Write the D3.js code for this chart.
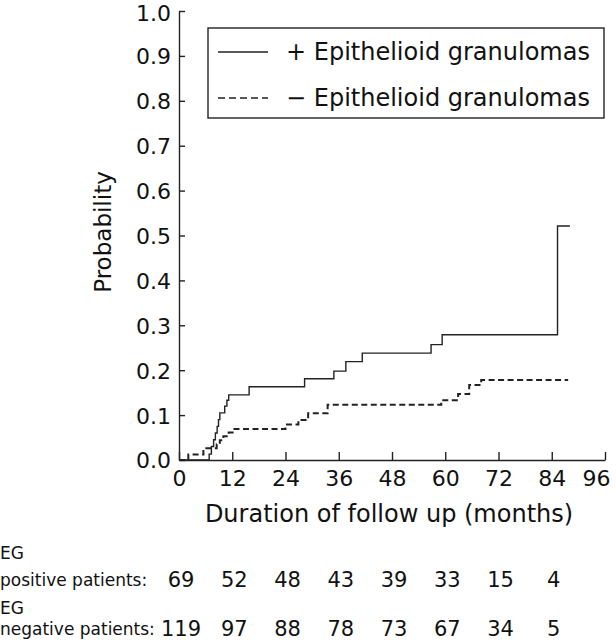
<!DOCTYPE html>
<html>
<head>
<meta charset="utf-8">
<script src="https://cdn.jsdelivr.net/npm/d3@7"></script>
<style>
  html, body { margin: 0; padding: 0; background: #fff; }
  svg { display: block; }
  text { font-family: "DejaVu Sans", sans-serif; fill: #111; }
</style>
</head>
<body>
<svg id="chart" width="616" height="640"></svg>
<script>
// ---- data ----
const xTicks = [0, 12, 24, 36, 48, 60, 72, 84, 96];
const yTicks = [0, 0.1, 0.2, 0.3, 0.4, 0.5, 0.6, 0.7, 0.8, 0.9, 1.0];

// + Epithelioid granulomas (solid), step times (months) and cumulative probability
const posTimes = [0, 6.8, 7.3, 7.8, 8.2, 8.6, 8.9, 9.2, 10.3, 10.8, 11.2, 15.8, 28.3, 34.9, 37.6, 41.3, 56.8, 59.3, 85.3];
const posProb  = [0, 0.013, 0.030, 0.045, 0.060, 0.075, 0.090, 0.105, 0.120, 0.133, 0.145, 0.163, 0.181, 0.198, 0.219, 0.238, 0.257, 0.279, 0.521];
const posEnd = 88.1;

// - Epithelioid granulomas (dashed)
const negTimes = [0, 2.1, 5.5, 8.5, 9.2, 10.0, 11.2, 12.5, 24.0, 26.9, 29.1, 33.5, 59.1, 62.9, 65.4, 68.1];
const negProb  = [0, 0.012, 0.026, 0.035, 0.044, 0.053, 0.061, 0.069, 0.079, 0.089, 0.104, 0.123, 0.133, 0.147, 0.167, 0.178];
const negEnd = 87.7;

const seriesNames = ["+ Epithelioid granulomas", "\u2212 Epithelioid granulomas"];

// numbers at risk
const riskTimes = [0, 12, 24, 36, 48, 60, 72, 84];
const riskPos = [69, 52, 48, 43, 39, 33, 15, 4];
const riskNeg = [119, 97, 88, 78, 73, 67, 34, 5];

// ---- drawing ----
const svg = d3.select("#chart");
const x = d3.scaleLinear().domain([0, 96]).range([179, 605]);
const y = d3.scaleLinear().domain([0, 1]).range([460, 11]);

const line = d3.line().x(d => x(d[0])).y(d => y(d[1])).curve(d3.curveStepAfter);

function pts(times, probs, end) {
  const p = times.map((t, i) => [t, probs[i]]);
  p.push([end, probs[probs.length - 1]]);
  return p;
}

// axes
const xAxis = svg.append("g").attr("transform", `translate(0,${y(0)})`)
  .call(d3.axisBottom(x).tickValues(xTicks).tickSize(-8).tickSizeOuter(0).tickPadding(10));
const yAxis = svg.append("g").attr("transform", `translate(${x(0)},0)`)
  .call(d3.axisLeft(y).tickValues(yTicks).tickFormat(d3.format(".1f")).tickSize(-6).tickSizeOuter(0).tickPadding(8));
[xAxis, yAxis].forEach(g => {
  g.selectAll("path.domain").attr("stroke", "#222").attr("stroke-width", 1.4);
  g.selectAll(".tick line").attr("stroke", "#222").attr("stroke-width", 1.4);
  g.selectAll(".tick text").attr("font-family", "DejaVu Sans").attr("font-size", 22).attr("fill", "#111");
});
yAxis.selectAll(".tick text").attr("dy", d => d === 1 ? "0.42em" : "0.36em");
xAxis.selectAll(".tick text").filter(d => d === 96).attr("dx", -9);

// curves
svg.append("path").attr("d", line(pts(negTimes, negProb, negEnd)))
  .attr("fill", "none").attr("stroke", "#222").attr("stroke-width", 2)
  .attr("stroke-dasharray", "6,3.5");
svg.append("path").attr("d", line(pts(posTimes, posProb, posEnd)))
  .attr("fill", "none").attr("stroke", "#222").attr("stroke-width", 1.4);

// axis titles
svg.append("text").attr("x", x(48) - 3).attr("y", 522).attr("text-anchor", "middle")
  .attr("font-size", 24).text("Duration of follow up (months)");
svg.append("text").attr("transform", "translate(111,232) rotate(-90)").attr("text-anchor", "middle")
  .attr("font-size", 23).text("Probability");

// legend
const leg = svg.append("g");
leg.append("rect").attr("x", 208).attr("y", 28).attr("width", 396).attr("height", 90)
  .attr("fill", "#fff").attr("stroke", "#222").attr("stroke-width", 1.4);
const legRows = [
  { name: seriesNames[0], yy: 52, dash: null, w: 1.4 },
  { name: seriesNames[1], yy: 98, dash: "7,4", w: 1.6 }
];
legRows.forEach(r => {
  leg.append("line").attr("x1", 218).attr("x2", 268).attr("y1", r.yy).attr("y2", r.yy)
    .attr("stroke", "#222").attr("stroke-width", r.w).attr("stroke-dasharray", r.dash);
  leg.append("text").attr("x", 286).attr("y", r.yy + 8).attr("font-size", 24).text(r.name);
});

// numbers at risk table
const tbl = svg.append("g");
tbl.append("text").attr("x", 0).attr("y", 559).attr("font-size", 17).text("EG");
tbl.append("text").attr("x", 0).attr("y", 586).attr("font-size", 17).text("positive patients:");
tbl.append("text").attr("x", 0).attr("y", 614).attr("font-size", 17).text("EG");
tbl.append("text").attr("x", 0).attr("y", 635).attr("font-size", 17).text("negative patients:");
tbl.selectAll(".rp").data(riskPos).enter().append("text")
  .attr("x", (d, i) => x(riskTimes[i]) + 2).attr("y", 587).attr("text-anchor", "middle")
  .attr("font-size", 21).text(d => d);
tbl.selectAll(".rn").data(riskNeg).enter().append("text")
  .attr("x", (d, i) => x(riskTimes[i]) + 2).attr("y", 636).attr("text-anchor", "middle")
  .attr("font-size", 21).text(d => d);
</script>
</body>
</html>
